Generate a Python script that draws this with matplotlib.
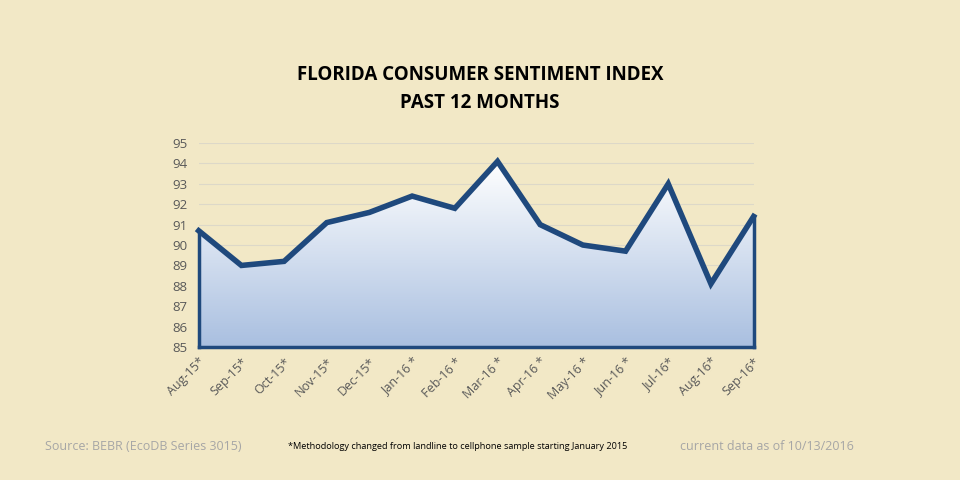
import matplotlib
matplotlib.use("Agg")
import matplotlib.pyplot as plt
import numpy as np
from matplotlib.patches import Polygon
from matplotlib.colors import LinearSegmentedColormap

months = ["Aug-15*","Sep-15*","Oct-15*","Nov-15*","Dec-15*","Jan-16 *","Feb-16 *","Mar-16 *","Apr-16 *","May-16 *","Jun-16 *","Jul-16*","Aug-16*","Sep-16*"]
values = [90.7, 89.0, 89.2, 91.1, 91.6, 92.4, 91.8, 94.1, 91.0, 90.0, 89.7, 93.0, 88.1, 91.4]

plt.rcParams['font.family'] = ['Open Sans', 'DejaVu Sans']
bg = "#F2E8C6"
line_c = "#1F497D"
fig = plt.figure(figsize=(9.6, 4.8), dpi=100, facecolor=bg)
ax = fig.add_axes([0.207, 0.277, 0.578, 0.425], facecolor=bg)
x = np.arange(len(values))
ax.set_xlim(0, len(values) - 1)
ax.set_ylim(85, 95)
ax.set_yticks(range(85, 96))
ax.grid(axis="y", color="#DDD8C8", lw=0.8)
ax.set_axisbelow(True)

verts = [(0, 85)] + list(zip(x, values)) + [(len(values) - 1, 85)]
poly = Polygon(verts, closed=True, facecolor="none", edgecolor="none")
ax.add_patch(poly)
grad = np.linspace(0, 1, 256).reshape(-1, 1)
cmap = LinearSegmentedColormap.from_list("g", ["#FFFFFF", "#A9BFE0"])
im = ax.imshow(grad, cmap=cmap, aspect="auto", extent=[0, len(values) - 1, 85, max(values)],
               origin="upper", zorder=2)
im.set_clip_path(poly)
ax.plot(list(x), values, color=line_c, lw=4, zorder=3, solid_joinstyle="miter", clip_on=False)
ax.plot([0, 0], [85, values[0]], color=line_c, lw=2.5, zorder=3, clip_on=False)
ax.plot([x[-1], x[-1]], [85, values[-1]], color=line_c, lw=2.5, zorder=3, clip_on=False)

for s in ["top", "right", "left"]:
    ax.spines[s].set_visible(False)
ax.spines["bottom"].set_color(line_c)
ax.spines["bottom"].set_linewidth(2.5)
ax.spines["bottom"].set_zorder(4)
ax.set_xticks(x)
ax.set_xticklabels(months, rotation=45, ha="right", rotation_mode="anchor", fontsize=9, color="#595959")
ax.tick_params(axis="x", length=0, pad=6)
ax.tick_params(axis="y", length=0, labelsize=9.5, labelcolor="#595959", pad=8)

fig.text(0.5, 0.815, "FLORIDA CONSUMER SENTIMENT INDEX\nPAST 12 MONTHS", ha="center", va="center",
         fontsize=13.5, fontweight="bold", linespacing=1.5)
fig.text(0.047, 0.07, "Source: BEBR (EcoDB Series 3015)", fontsize=9, color="#A6A6A6", va="center")
fig.text(0.30, 0.07, "*Methodology changed from landline to cellphone sample starting January 2015", fontsize=6.6, color="black", va="center")
fig.text(0.708, 0.07, "current data as of 10/13/2016", fontsize=9, color="#A6A6A6", va="center")
fig.savefig("out.png", dpi=100, facecolor=bg)
